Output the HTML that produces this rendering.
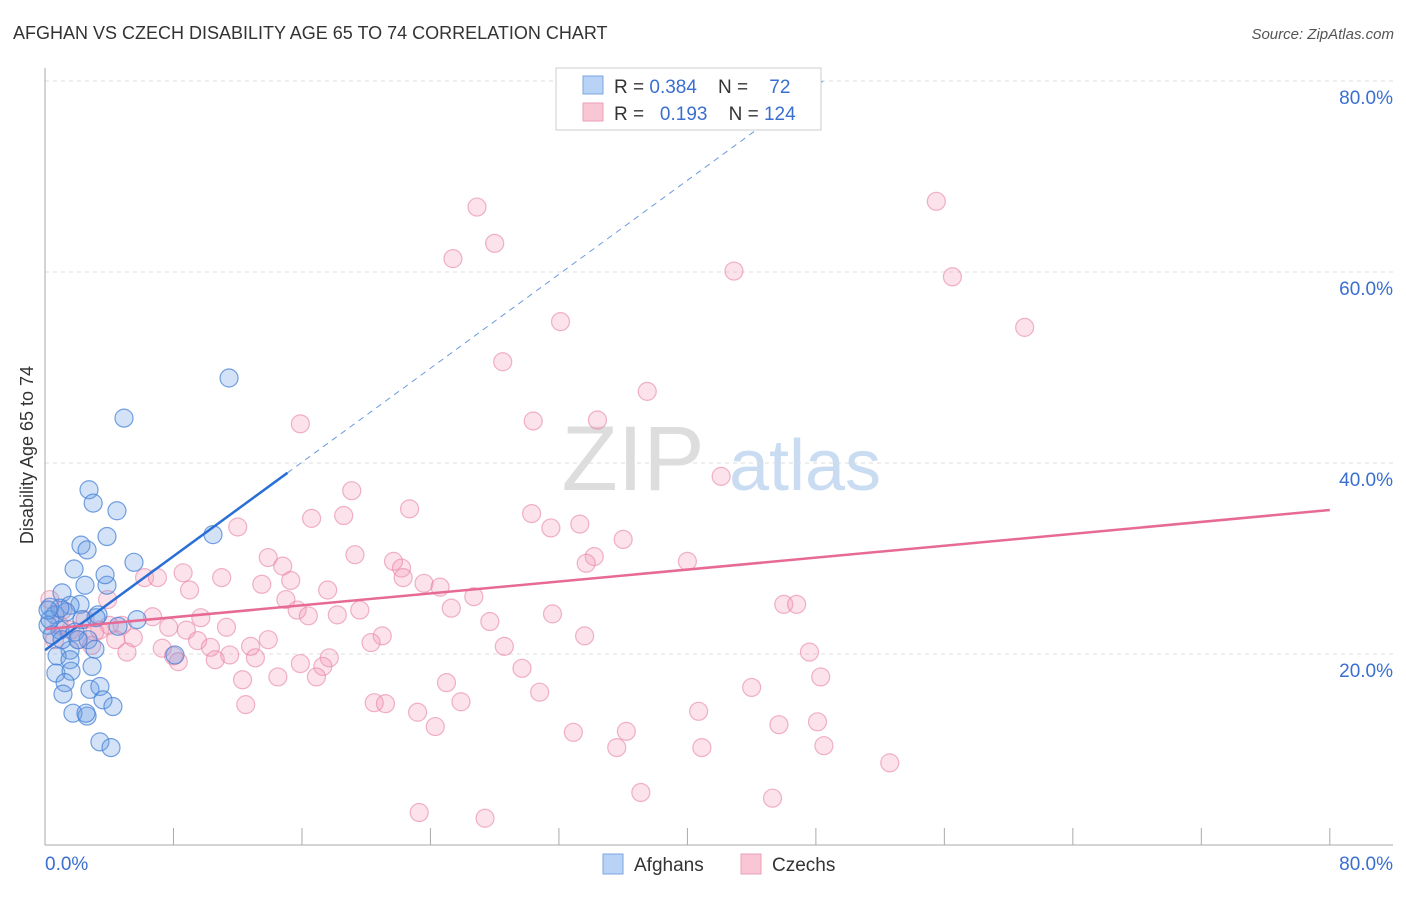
<!DOCTYPE html>
<html><head><meta charset="utf-8"><style>
body{margin:0;background:#fff;font-family:"Liberation Sans",sans-serif;}
svg text{font-family:"Liberation Sans",sans-serif;}
.pre{white-space:pre;}
</style></head><body>
<svg id="chart" width="1406" height="892" xmlns="http://www.w3.org/2000/svg">
<text x="13" y="39" font-size="18" fill="#333">AFGHAN VS CZECH DISABILITY AGE 65 TO 74 CORRELATION CHART</text>
<text x="1394" y="39" font-size="15" fill="#555" text-anchor="end" font-style="italic">Source: ZipAtlas.com</text>
<g>
<text x="633" y="490" font-size="92" fill="#ddd" text-anchor="middle" font-family="Liberation Serif">ZIP</text>
<text x="805" y="490" font-size="72" fill="#c9dcf2" text-anchor="middle">atlas</text>
</g>
<g id="grid"></g><g id="axes"></g><g id="pts"></g><g id="trend"></g>
<text transform="translate(33,455) rotate(-90)" font-size="18" fill="#333" text-anchor="middle">Disability Age 65 to 74</text>
<g>
<rect x="556" y="68" width="265" height="62" fill="#fff" stroke="#ccc"/>
<rect x="583" y="76" width="20" height="18" fill="#b8d3f5" stroke="#7aa6e0"/>
<rect x="583" y="103" width="20" height="18" fill="#f9c6d6" stroke="#eaa0b8"/>
<text class="pre" x="614" y="93" font-size="19" fill="#333">R = <tspan fill="#3a6fd0">0.384</tspan>    N =    <tspan fill="#3a6fd0">72</tspan></text>
<text class="pre" x="614" y="120" font-size="19" fill="#333">R =  <tspan fill="#3a6fd0"> 0.193</tspan>    N = <tspan fill="#3a6fd0">124</tspan></text>
</g>
<g>
<rect x="603" y="854" width="20" height="20" fill="#b8d3f5" stroke="#7aa6e0"/>
<text x="634" y="871" font-size="19" fill="#333">Afghans</text>
<rect x="741" y="854" width="20" height="20" fill="#f9c6d6" stroke="#eaa0b8"/>
<text x="772" y="871" font-size="19" fill="#333">Czechs</text>
</g>
</svg>
<script>
const yTicks=[20,40,60,80];
const xTickVals=[0,8,16,24,32,40,48,56,64,72,80];
const afX=[11.46,4.92,2.74,3.0,4.48,10.46,2.24,2.62,3.86,5.54,2.49,3.86,1.81,3.74,1.06,2.18,0.31,1.56,3.30,5.73,4.55,3.18,0.62,0.93,1.87,2.68,3.11,1.56,0.75,1.56,2.93,0.68,1.62,1.25,2.80,3.42,1.12,3.61,4.23,1.74,2.62,2.55,3.42,4.11,8.09,0.19,0.44,1.06,2.05,0.31,1.31,2.30,0.93,0.19];
const afY=[48.9,44.7,37.2,35.8,35.0,32.5,31.4,30.9,32.3,29.6,27.2,27.2,28.9,28.3,26.4,25.2,24.9,25.1,24.1,23.6,22.9,23.8,24.1,22.5,22.3,21.5,20.5,20.4,19.8,19.4,18.7,18.0,18.2,17.0,16.3,16.6,15.8,15.2,14.5,13.8,13.5,13.8,10.8,10.2,19.9,23.0,22.0,21.5,21.5,23.6,24.4,23.6,24.8,24.6];
const czX=[26.9,55.5,28.0,25.4,42.9,56.5,32.1,61.0,28.5,37.5,34.4,15.9,30.4,42.1,19.1,22.7,30.3,16.6,18.6,12.0,31.5,33.3,36.0,19.3,13.9,21.7,34.2,33.7,22.2,40.0,14.8,8.6,22.3,6.2,7.0,11.0,23.6,13.5,15.3,24.6,9.0,26.7,17.6,15.0,3.9,46.0,46.8,15.7,25.3,31.6,6.7,9.7,18.2,19.6,16.4,4.8,7.7,11.3,27.7,3.4,8.8,5.5,21.0,13.9,33.6,9.5,20.3,10.3,12.8,7.3,5.1,28.6,47.6,8.0,11.5,13.1,8.3,10.6,17.7,15.9,17.3,29.7,16.9,14.5,12.3,25.0,44.0,48.3,30.8,20.5,21.2,25.9,12.5,23.2,40.7,24.3,45.7,48.1,32.9,36.2,35.6,40.9,48.5,52.6,37.1,45.3,23.3,27.4,4.0,3.1,2.5,1.6,0.9,2.1,4.4,2.9,1.1,0.3,0.6];
const czY=[66.8,67.4,63.0,61.4,60.1,59.5,54.8,54.2,50.6,47.5,44.5,44.1,44.4,38.6,37.1,35.2,34.7,34.2,34.5,33.3,33.2,33.6,32.0,30.4,30.1,29.7,30.2,29.5,29.0,29.7,29.2,28.5,28.0,28.0,28.0,28.0,27.4,27.3,27.7,27.0,26.7,26.0,26.7,25.7,25.7,25.2,25.2,24.6,24.8,24.2,23.9,23.8,24.1,24.6,24.0,23.0,22.8,22.8,23.4,22.5,22.5,21.7,21.9,21.5,21.9,21.4,21.2,20.7,20.8,20.6,20.2,20.8,20.2,19.8,19.9,19.6,19.2,19.4,19.6,19.0,18.7,18.5,17.6,17.6,17.3,17.0,16.5,17.6,16.0,14.9,14.8,15.0,14.7,13.9,14.0,12.4,12.6,12.9,11.8,11.9,10.2,10.2,10.4,8.6,5.5,4.9,3.4,2.8,23.0,22.3,23.6,22.5,23.0,21.5,21.5,20.9,24.6,25.7,21.5];
const afTrend=[20.4,1.23];
const czTrend=[22.6,0.156];
const X=v=>45+v*16.06, Y=v=>845-v*9.55;
const NS="http://www.w3.org/2000/svg";
function mk(t,a,p){const e=document.createElementNS(NS,t);for(const k in a)e.setAttribute(k,a[k]);p.appendChild(e);return e;}
const grid=document.getElementById('grid'),axes=document.getElementById('axes'),pts=document.getElementById('pts'),tr=document.getElementById('trend');
yTicks.forEach(v=>{
 const l=mk('line',{x1:45,x2:1393,y1:Y(v),y2:Y(v),stroke:'#ddd','stroke-dasharray':'4,4'},grid);
 
 
 const t=mk('text',{x:1393,y:Y(v)+23,'font-size':19,fill:'#3a6fd0','text-anchor':'end'},axes);
 t.textContent=v.toFixed(1)+'%';
 
 
});
const ax=mk('line',{x1:45,x2:45,y1:68,y2:845,stroke:'#aaa'},axes);


const bx=mk('line',{x1:45,x2:1393,y1:845,y2:845,stroke:'#aaa'},axes);


xTickVals.forEach(v=>{
 const t=mk('line',{x1:X(v),x2:X(v),y1:828,y2:845,stroke:'#aaa'},axes);
 
 });
[[0,'start',45],[80,'end',1393]].forEach(([v,a,x])=>{
 const t=mk('text',{x:x,y:870,'font-size':19,fill:'#3a6fd0','text-anchor':a},axes);
 t.textContent=v.toFixed(1)+'%';
 
 
});
czX.forEach((v,i)=>{const c=mk('circle',{cx:X(v),cy:Y(czY[i]),r:9,fill:'rgba(244,150,180,0.28)',stroke:'rgba(230,130,165,0.6)','stroke-width':1.2},pts);
 
 });
afX.forEach((v,i)=>{const c=mk('circle',{cx:X(v),cy:Y(afY[i]),r:9,fill:'rgba(110,160,230,0.3)',stroke:'rgba(70,130,215,0.75)','stroke-width':1.2},pts);
 
 });
const xEndSolid=15.1, xEndDash=(80-afTrend[0])/afTrend[1];
const l1=mk('line',{x1:X(0),y1:Y(afTrend[0]),x2:X(xEndSolid),y2:Y(afTrend[0]+afTrend[1]*xEndSolid),stroke:'#2a6fd6','stroke-width':2.5},tr);


const l2=mk('line',{x1:X(xEndSolid),y1:Y(afTrend[0]+afTrend[1]*xEndSolid),x2:X(xEndDash),y2:Y(80),stroke:'#6a9be0','stroke-width':1,'stroke-dasharray':'6,5'},tr);


const l3=mk('line',{x1:X(0),y1:Y(czTrend[0]),x2:X(80),y2:Y(czTrend[0]+czTrend[1]*80),stroke:'#e66a95','stroke-width':2.5},tr);


</script>
</body></html>
